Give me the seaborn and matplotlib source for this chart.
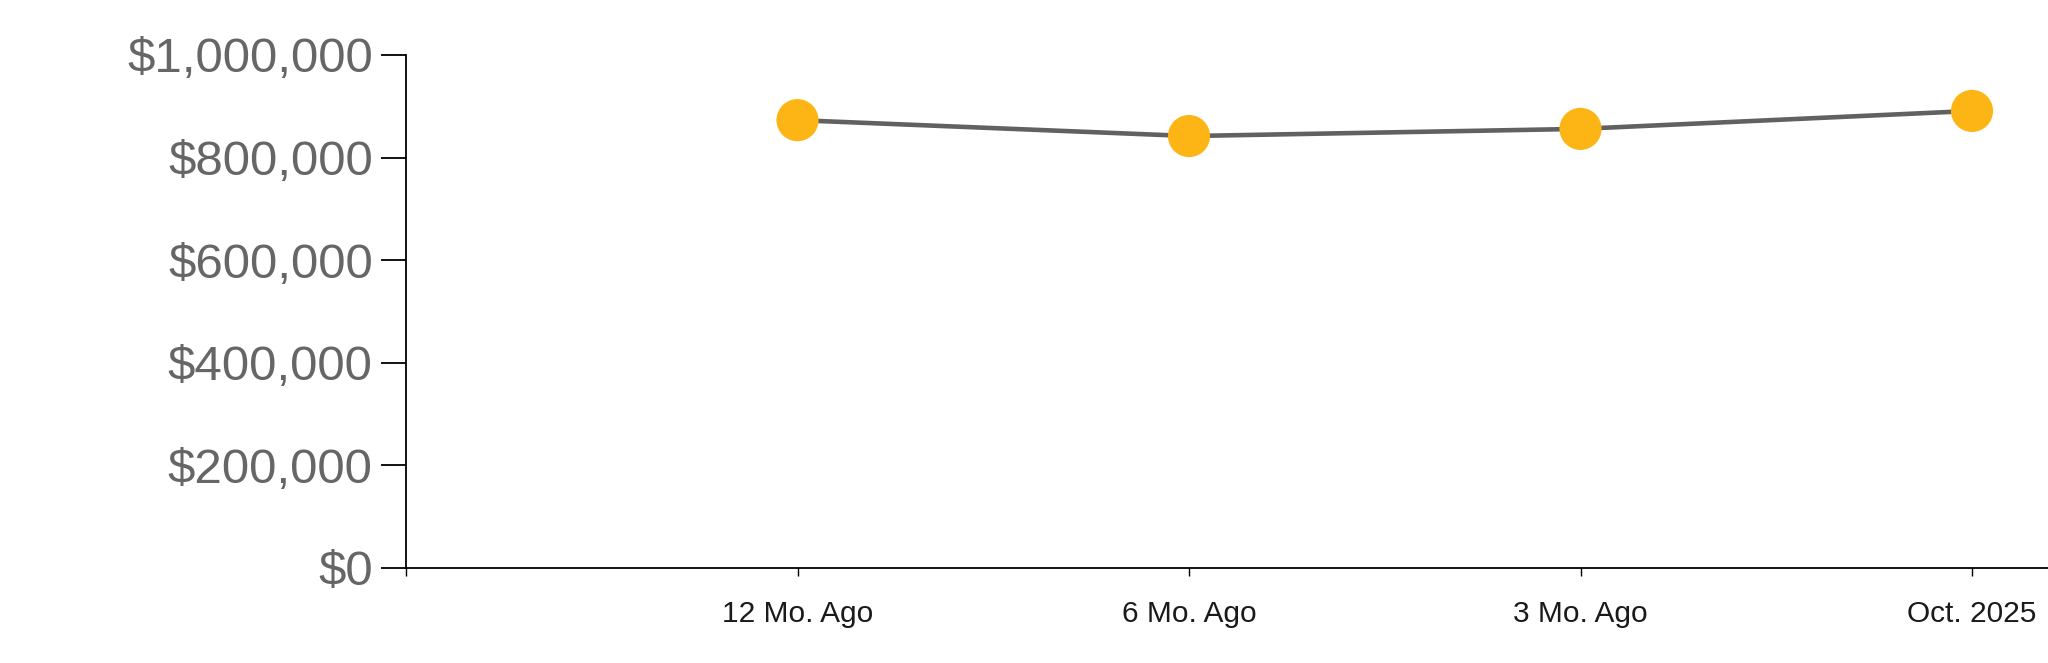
import pandas as pd
import seaborn as sns
import matplotlib.pyplot as plt
from matplotlib.ticker import FuncFormatter

periods = ["12 Mo. Ago", "6 Mo. Ago", "3 Mo. Ago", "Oct. 2025"]
prices = [873000, 842000, 856000, 891000]
y_ticks = [0, 200000, 400000, 600000, 800000, 1000000]

df = pd.DataFrame({"pos": range(1, len(periods) + 1), "price": prices})

sns.set_style("white")
plt.rcParams["font.family"] = ["Liberation Sans", "DejaVu Sans"]

fig = plt.figure(figsize=(20.48, 6.63), dpi=100)
ax = fig.add_axes([406 / 2048, 1 - 568 / 663, 1 - 406 / 2048, (568 - 55) / 663])

sns.lineplot(data=df, x="pos", y="price", color="#616161", linewidth=3.3, ax=ax, zorder=2)
sns.scatterplot(data=df, x="pos", y="price", color="#FDB515", s=920, edgecolor="none",
                ax=ax, zorder=3, clip_on=False)

ax.set_xlim(0, (2048 - 406) / 391.5)
ax.set_ylim(0, 1000000)
ax.set_xticks([0] + list(df["pos"]))
ax.set_xticklabels([""] + periods, fontsize=21.5, color="#1a1a1a")
ax.set_yticks(y_ticks)
ax.yaxis.set_major_formatter(FuncFormatter(lambda v, p: f"${v:,.0f}"))
ax.tick_params(axis="y", labelsize=35.5, labelcolor="#666666", length=18, width=1.3,
               color="black", pad=6, left=True)
ax.tick_params(axis="x", length=6, width=1.0, color="black", pad=17, bottom=True)
ax.set_xlabel("")
ax.set_ylabel("")

sns.despine(ax=ax)
for side in ["left", "bottom"]:
    ax.spines[side].set_color("black")
    ax.spines[side].set_linewidth(1.3)

fig.savefig("out.png", dpi=100, facecolor="white")
